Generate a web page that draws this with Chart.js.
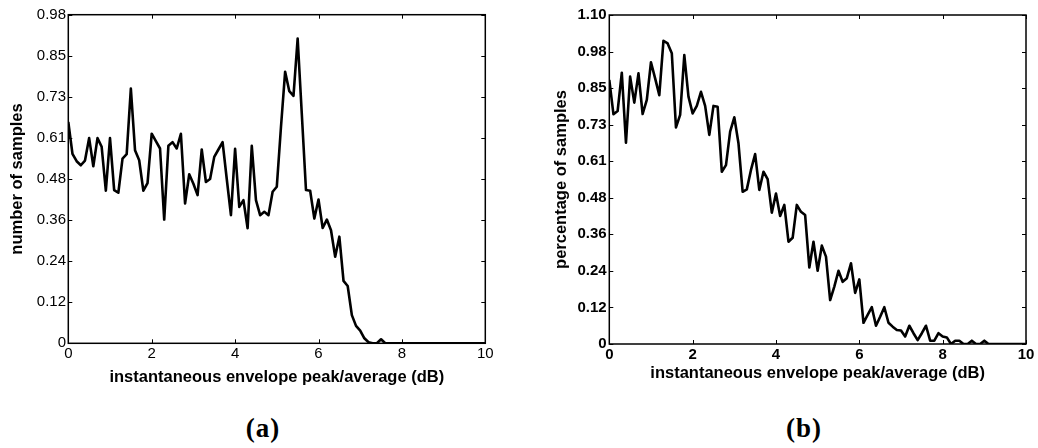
<!DOCTYPE html>
<html>
<head>
<meta charset="utf-8">
<script src="https://cdn.jsdelivr.net/npm/chart.js@4.4.0/dist/chart.umd.min.js"></script>
<style>
  html, body { margin: 0; padding: 0; background: #fff; }
  #wrap { position: relative; width: 1038px; height: 448px; overflow: hidden; }
  canvas { position: absolute; top: 0; }
  #chartA { left: 0; }
  #chartB { left: 519px; }
  .caption {
    position: absolute; top: 415px; width: 100px; text-align: center;
    font: bold 27px "Liberation Serif", "Times New Roman", serif; line-height: 27px;
    letter-spacing: 1px; color: #000;
  }
</style>
</head>
<body>
<div id="wrap">
  <canvas id="chartA" width="519" height="400"></canvas>
  <canvas id="chartB" width="519" height="400"></canvas>
  <div class="caption" style="left:213px">(a)</div>
  <div class="caption" style="left:754px">(b)</div>
</div>
<script>
// x axis: instantaneous envelope peak/average, 0..10 dB in 0.1 dB bins
const binCount = 101
const binWidthDb = 0.1
const xTickValues = [0, 2, 4, 6, 8, 10]

// (a) number of samples
const samplesA = [
  0.66, 0.565, 0.543, 0.531, 0.545, 0.612, 0.528, 0.612, 0.586, 0.455,
  0.612, 0.457, 0.449, 0.551, 0.564, 0.76, 0.576, 0.546, 0.455, 0.478,
  0.625, 0.603, 0.581, 0.369, 0.589, 0.60, 0.581, 0.625, 0.417, 0.504,
  0.476, 0.442, 0.578, 0.481, 0.49, 0.556, 0.578, 0.60, 0.49, 0.382,
  0.58, 0.407, 0.427, 0.343, 0.589, 0.427, 0.382, 0.392, 0.382, 0.452,
  0.467, 0.645, 0.81, 0.752, 0.738, 0.909, 0.683, 0.457, 0.455, 0.372,
  0.429, 0.344, 0.369, 0.337, 0.258, 0.318, 0.186, 0.171, 0.084, 0.052,
  0.038, 0.015, 0.003, 0, 0, 0.012, 0, 0, 0, 0,
  0, 0, 0, 0, 0, 0, 0, 0, 0, 0,
  0, 0, 0, 0, 0, 0, 0, 0, 0, 0,
  0
]
const yTickValuesA = [0, 0.1225, 0.245, 0.3675, 0.49, 0.6125, 0.735, 0.8575, 0.98]
const yTickLabelsA = ['0', '0.12', '0.24', '0.36', '0.48', '0.61', '0.73', '0.85', '0.98']

// (b) percentage of samples
const samplesB = [
  0.883, 0.768, 0.779, 0.907, 0.673, 0.894, 0.807, 0.905, 0.769, 0.816,
  0.942, 0.888, 0.832, 1.014, 1.005, 0.972, 0.724, 0.766, 0.966, 0.827,
  0.771, 0.796, 0.843, 0.796, 0.699, 0.796, 0.793, 0.576, 0.598, 0.71,
  0.758, 0.671, 0.509, 0.517, 0.582, 0.635, 0.515, 0.576, 0.551, 0.439,
  0.503, 0.428, 0.465, 0.342, 0.355, 0.465, 0.442, 0.431, 0.256, 0.342,
  0.245, 0.329, 0.292, 0.147, 0.192, 0.245, 0.208, 0.22, 0.27, 0.171,
  0.216, 0.071, 0.097, 0.123, 0.061, 0.091, 0.123, 0.071, 0.058, 0.047,
  0.045, 0.025, 0.061, 0.036, 0.013, 0.036, 0.061, 0.011, 0.011, 0.036,
  0.025, 0.022, 0, 0.011, 0.011, 0, 0, 0.011, 0, 0,
  0.011, 0, 0, 0, 0, 0, 0, 0, 0, 0,
  0
]
const yTickValuesB = [0, 0.1222, 0.2444, 0.3667, 0.4889, 0.6111, 0.7333, 0.8556, 0.9778, 1.1]
const yTickLabelsB = ['0', '0.12', '0.24', '0.36', '0.48', '0.61', '0.73', '0.85', '0.98', '1.10']

const xTitle = 'instantaneous envelope peak/average (dB)'
const SANS = '"Liberation Sans", Arial, sans-serif'

const xDb = Array.from({ length: binCount }, (_, i) => +(i * binWidthDb).toFixed(1))

// matlab style box with inward tick marks
const boxPlugin = {
  id: 'mbox',
  afterDatasetsDraw(chart) {
    const { ctx, chartArea: a, scales: { x, y } } = chart
    const tl = 4
    ctx.save()
    ctx.strokeStyle = '#000'
    ctx.lineWidth = 1
    ctx.beginPath()
    x.ticks.forEach(t => {
      const px = Math.round(x.getPixelForValue(t.value)) + 0.5
      ctx.moveTo(px, a.bottom); ctx.lineTo(px, a.bottom - tl)
      ctx.moveTo(px, a.top); ctx.lineTo(px, a.top + tl)
    })
    y.ticks.forEach(t => {
      const py = Math.round(y.getPixelForValue(t.value)) + 0.5
      ctx.moveTo(a.left, py); ctx.lineTo(a.left + tl, py)
      ctx.moveTo(a.right, py); ctx.lineTo(a.right - tl, py)
    })
    ctx.stroke()
    ctx.lineWidth = 1.5
    ctx.strokeRect(a.left, a.top, a.right - a.left, a.bottom - a.top)
    ctx.restore()
  }
}

function makeChart(id, values, yMax, yTickValues, yTickLabels, yTitle, lay) {
  const ctx = document.getElementById(id).getContext('2d')
  return new Chart(ctx, {
    type: 'line',
    data: {
      datasets: [{
        data: xDb.map((v, i) => ({ x: v, y: values[i] })),
        borderColor: '#000',
        borderWidth: 2.6,
        borderJoinStyle: 'round',
        pointRadius: 0,
        tension: 0,
        fill: false
      }]
    },
    options: {
      responsive: false,
      animation: false,
      events: [],
      layout: { padding: { top: lay.top, right: lay.right, left: 0, bottom: 0 } },
      plugins: { legend: { display: false }, tooltip: { enabled: false } },
      scales: {
        x: {
          type: 'linear', min: 0, max: 10,
          afterBuildTicks: s => { s.ticks = xTickValues.map(v => ({ value: v })) },
          afterFit: s => { s.height = lay.xHeight },
          grid: { display: false, drawTicks: false },
          border: { display: false },
          ticks: { color: '#000', padding: 2, maxRotation: 0,
                   font: { family: SANS, size: 15, weight: lay.tickWeight } },
          title: { display: true, text: xTitle, color: '#000',
                   padding: { top: 0, bottom: lay.xTitlePad },
                   font: { family: SANS, size: 16.5, weight: 'bold' } }
        },
        y: {
          type: 'linear', min: 0, max: yMax,
          afterBuildTicks: s => { s.ticks = yTickValues.map(v => ({ value: v })) },
          afterFit: s => { s.width = lay.yWidth },
          grid: { display: false, drawTicks: false },
          border: { display: false },
          ticks: { color: '#000', padding: lay.yTickPad,
                   font: { family: SANS, size: 15, weight: lay.tickWeight },
                   callback: (v, i) => yTickLabels[i] },
          title: { display: true, text: yTitle, color: '#000',
                   padding: { top: lay.yTitlePad, bottom: 0 },
                   font: { family: SANS, size: 16.5, weight: 'bold' } }
        }
      }
    },
    plugins: [boxPlugin]
  })
}

makeChart('chartA', samplesA, 0.98, yTickValuesA, yTickLabelsA, 'number of samples', {
  top: 14.7, right: 33.7, xHeight: 56.7, yWidth: 68.3,
  xTitlePad: 13, yTitlePad: 7.5, yTickPad: 2.3, tickWeight: 'normal'
})
makeChart('chartB', samplesB, 1.1, yTickValuesB, yTickLabelsB, 'percentage of samples', {
  top: 15, right: 12, xHeight: 56, yWidth: 90.3,
  xTitlePad: 17, yTitlePad: 33, yTickPad: 2.6, tickWeight: 'bold'
})
</script>
</body>
</html>
